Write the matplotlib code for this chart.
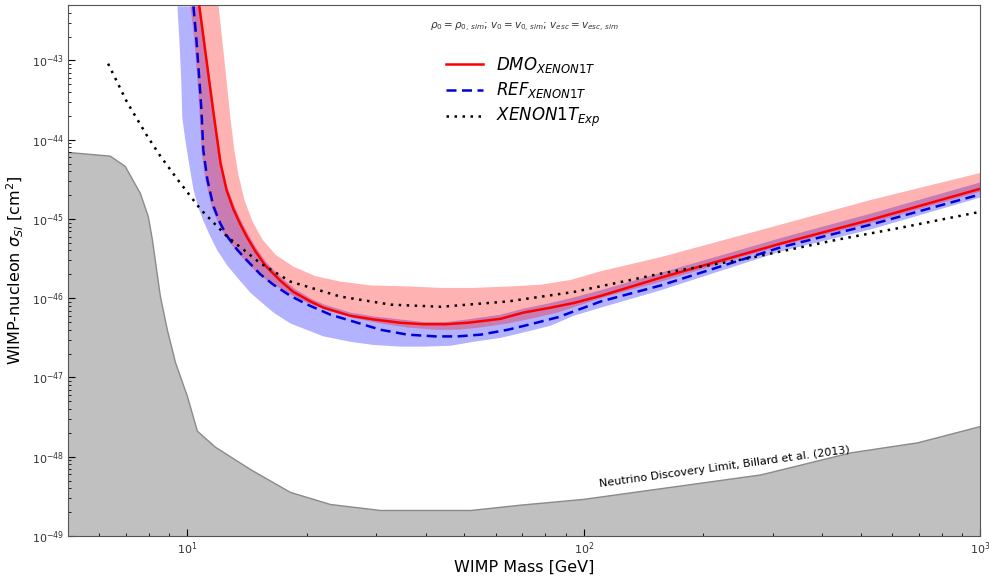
import matplotlib
matplotlib.use("Agg")
import matplotlib.pyplot as plt
from matplotlib.ticker import LogLocator, NullFormatter

# Neutrino discovery limit (Billard et al. 2013)
nu_mass = [5.0, 6.39, 6.97, 7.61, 7.97, 8.16, 8.55, 8.90, 9.33, 10.0, 10.6, 11.77,
           14.43, 18.2, 22.96, 30.7, 51.9, 69.3, 100, 280, 472, 697, 1000]
nu_sigma = [6.9e-45, 6.2e-45, 4.6e-45, 2.1e-45, 1.07e-45, 5.5e-46, 1.05e-46, 4.0e-47, 1.55e-47,
            5.8e-48, 2.1e-48, 1.32e-48, 6.9e-49, 3.55e-49, 2.5e-49, 2.1e-49, 2.1e-49,
            2.45e-49, 2.9e-49, 5.9e-49, 1.12e-48, 1.5e-48, 2.4e-48]

# XENON1T experimental limit
exp_mass = [6.31, 7.05, 7.93, 8.55, 9.44, 10.8, 12.6, 15.3, 18.2, 24.3, 32.6, 43.6, 64.3,
            94.4, 156, 253, 438, 643, 1000]
exp_sigma = [9.1e-44, 2.95e-44, 1.1e-44, 6.2e-45, 3.16e-45, 1.32e-45, 6.0e-46, 2.75e-46,
             1.62e-46, 1.05e-46, 8.3e-47, 7.8e-47, 9.1e-47, 1.2e-46, 2.04e-46, 3.1e-46,
             5.5e-46, 7.9e-46, 1.23e-45]

# DMO XENON1T (central line)
dmo_mass = [10.72, 11.17, 11.63, 12.12, 12.55, 13.07, 13.61, 14.18, 14.85, 15.74, 17.17, 18.52,
            20.45, 22.05, 25.79, 29.5, 34.5, 39.45, 44.83, 50.94, 61.7, 70.56, 82.5, 94.3,
            110.4, 156.5, 314.5, 530.7, 1000]
dmo_sigma = [4.8e-43, 1.02e-43, 2.24e-44, 5.1e-45, 2.34e-45, 1.32e-45, 8.5e-46, 5.75e-46,
             3.9e-46, 2.57e-46, 1.66e-46, 1.2e-46, 9.1e-47, 7.6e-47, 6.0e-47, 5.4e-47, 4.9e-47,
             4.7e-47, 4.7e-47, 4.9e-47, 5.5e-47, 6.6e-47, 7.6e-47, 8.7e-47, 1.07e-46, 1.82e-46,
             4.9e-46, 9.8e-46, 2.4e-45]

# DMO band edges
dmo_hi_mass = [11.98, 12.40, 12.84, 13.14, 13.45, 13.93, 14.60, 15.47, 16.68, 18.52, 21.05,
               24.34, 28.99, 35.94, 43.55, 52.74, 65.4, 77.9, 92.7, 110.4, 156.5, 314.5,
               530.7, 1000]
dmo_hi_sigma = [5.0e-43, 1.02e-43, 1.9e-44, 7.4e-45, 3.63e-45, 1.74e-45, 9.3e-46, 5.5e-46,
                3.55e-46, 2.5e-46, 1.9e-46, 1.62e-46, 1.45e-46, 1.41e-46, 1.35e-46, 1.35e-46,
                1.41e-46, 1.48e-46, 1.7e-46, 2.19e-46, 3.3e-46, 8.5e-46, 1.74e-45, 3.8e-45]
dmo_lo_mass = [10.18, 10.41, 10.60, 10.72, 10.85, 11.10, 11.50, 11.98, 12.47, 13.22, 14.01,
               15.11, 16.49, 18.2, 20.09, 22.96, 26.87, 30.72, 35.94, 42.3, 48.06, 54.9, 64.3,
               73.5, 86.0, 110.4, 156.5, 314.5, 530.7, 1000]
dmo_lo_sigma = [4.8e-43, 1.82e-43, 5.75e-44, 2.4e-44, 7.4e-45, 3.16e-45, 1.45e-45, 8.7e-46,
                6.0e-46, 4.07e-46, 2.95e-46, 2.0e-46, 1.48e-46, 1.12e-46, 8.7e-47, 6.8e-47,
                5.5e-47, 4.8e-47, 4.27e-47, 4.0e-47, 4.0e-47, 4.27e-47, 4.8e-47, 5.5e-47,
                6.6e-47, 1.0e-46, 1.62e-46, 4.6e-46, 8.9e-46, 2.2e-45]

# REF XENON1T (central line)
ref_mass = [10.36, 10.54, 10.72, 10.85, 10.97, 11.23, 11.63, 12.12, 12.62, 13.37, 14.18, 15.29,
            16.49, 18.2, 20.09, 22.96, 26.87, 30.72, 35.94, 42.3, 48.06, 54.9, 64.3, 73.5,
            86.0, 110.4, 156.5, 314.5, 530.7, 1000]
ref_sigma = [4.8e-43, 1.82e-43, 5.75e-44, 2.4e-44, 7.4e-45, 3.16e-45, 1.45e-45, 8.7e-46,
             6.0e-46, 4.07e-46, 2.95e-46, 2.0e-46, 1.48e-46, 1.07e-46, 8.3e-47, 6.2e-47,
             4.9e-47, 4.0e-47, 3.47e-47, 3.3e-47, 3.3e-47, 3.47e-47, 4.0e-47, 4.7e-47,
             5.75e-47, 9.1e-47, 1.45e-46, 4.4e-46, 8.5e-46, 2.04e-45]

# REF band edges
ref_hi_mass = [10.79, 11.23, 11.70, 12.19, 12.62, 13.14, 13.69, 14.26, 14.94, 15.83, 17.28,
               18.63, 20.56, 22.18, 25.79, 29.5, 34.51, 39.45, 44.83, 50.94, 61.7, 70.56,
               82.5, 94.3, 110.4, 156.5, 314.5, 530.7, 1000]
ref_hi_sigma = [4.8e-43, 1.02e-43, 2.24e-44, 5.1e-45, 2.45e-45, 1.45e-45, 9.3e-46, 6.3e-46,
                4.27e-46, 2.82e-46, 1.82e-46, 1.32e-46, 9.8e-47, 8.3e-47, 6.6e-47, 5.9e-47,
                5.4e-47, 5.0e-47, 5.0e-47, 5.4e-47, 6.2e-47, 7.4e-47, 8.7e-47, 1.02e-46,
                1.26e-46, 2.09e-46, 5.75e-46, 1.17e-45, 2.88e-45]
ref_lo_mass = [9.44, 9.546, 9.65, 9.71, 9.88, 10.06, 10.36, 10.66, 10.97, 11.43, 11.91, 12.62,
               13.37, 14.43, 15.29, 16.49, 18.2, 22.05, 25.79, 29.5, 34.5, 39.45, 46.1, 52.74,
               61.7, 70.56, 82.5, 94.3, 110.4, 156.5, 314.5, 530.7, 1000]
ref_lo_sigma = [4.8e-43, 1.82e-43, 5.75e-44, 1.9e-44, 1.0e-44, 5.6e-45, 2.34e-45, 1.38e-45,
                9.5e-46, 6.0e-46, 3.98e-46, 2.57e-46, 1.82e-46, 1.17e-46, 9.1e-47, 6.6e-47,
                4.8e-47, 3.3e-47, 2.82e-47, 2.57e-47, 2.45e-47, 2.45e-47, 2.51e-47, 2.82e-47,
                3.16e-47, 3.7e-47, 4.5e-47, 6.0e-47, 7.6e-47, 1.26e-46, 3.9e-46, 7.4e-46,
                1.86e-45]

x_ticks = [10, 100, 1000]
y_ticks = [1e-49, 1e-48, 1e-47, 1e-46, 1e-45, 1e-44, 1e-43]

fig = plt.figure(figsize=(9.89, 5.76), dpi=100)
ax = fig.add_axes([0.0688, 0.0694, 0.9222, 0.9219])
ax.set_xscale("log")
ax.set_yscale("log")

# neutrino floor
ax.fill_between(nu_mass, 1e-60, nu_sigma, color="#c0c0c0", lw=0, zorder=1)
ax.plot(nu_mass, nu_sigma, color="#8a8a8a", lw=1.0, zorder=1.5)

# bands
ax.fill(ref_lo_mass + ref_hi_mass[::-1], ref_lo_sigma + ref_hi_sigma[::-1],
        color="blue", alpha=0.3, lw=0, zorder=2)
ax.fill(dmo_lo_mass + dmo_hi_mass[::-1], dmo_lo_sigma + dmo_hi_sigma[::-1],
        color="red", alpha=0.3, lw=0, zorder=2)

ax.plot(dmo_mass, dmo_sigma, color="red", lw=1.8, ls="-", label=r"$DMO_{XENON1T}$", zorder=4)
ax.plot(ref_mass, ref_sigma, color="#0000dd", lw=1.8, ls=(0, (4, 2.2)),
        label=r"$REF_{XENON1T}$", zorder=4)
ax.plot(exp_mass, exp_sigma, color="black", lw=1.8, ls=(0, (1, 2.2)),
        label=r"$XENON1T_{Exp}$", zorder=4)

ax.set_xlim(5, 1000)
ax.set_ylim(1e-49, 5e-43)
ax.set_xticks(x_ticks)
ax.set_yticks(y_ticks)
ax.xaxis.set_minor_locator(LogLocator(base=10, subs=range(2, 10)))
ax.yaxis.set_minor_locator(LogLocator(base=10, subs=range(2, 10)))
ax.xaxis.set_minor_formatter(NullFormatter())
ax.yaxis.set_minor_formatter(NullFormatter())

ax.tick_params(which="both", direction="in", labelsize=8, labelcolor="#333333", pad=3)
ax.tick_params(which="major", length=5)
ax.tick_params(which="minor", length=2.5)
ax.set_xlabel("WIMP Mass [GeV]", fontsize=11.5, labelpad=2)
ax.set_ylabel(r"WIMP-nucleon $\sigma_{SI}$ [cm$^2$]", fontsize=11.5, labelpad=4)

ax.text(0.5, 0.958, r"$\rho_0 = \rho_{0,\,sim}$; $v_0 = v_{0,\,sim}$; $v_{esc} = v_{esc,\,sim}$",
        transform=ax.transAxes, ha="center", va="center", fontsize=7.5, color="#333333")

ax.legend(loc="upper left", bbox_to_anchor=(0.398, 0.935), frameon=False, fontsize=12,
          handlelength=2.2, labelspacing=0.35)

ax.text(110, 3.9e-49, "Neutrino Discovery Limit, Billard et al. (2013)", rotation=7.8,
        fontsize=8, ha="left", va="bottom", color="black", rotation_mode="anchor", zorder=5)

for s in ax.spines.values():
    s.set_color("#555555")

fig.savefig("out.png", dpi=100)
